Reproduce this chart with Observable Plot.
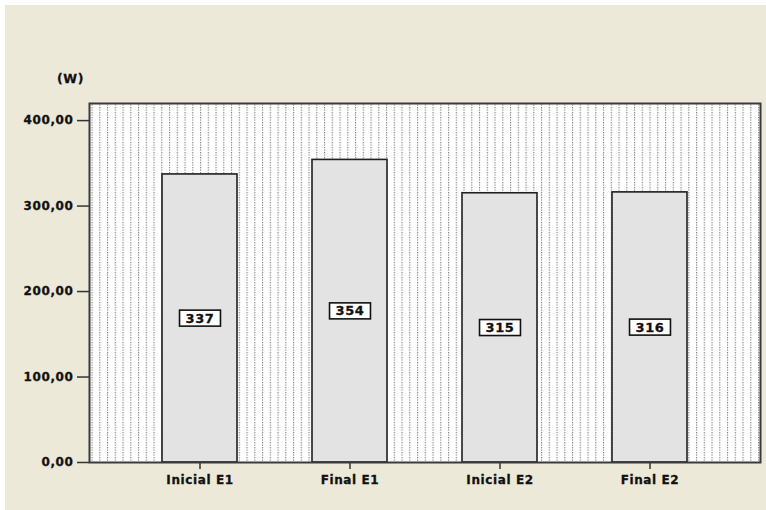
<!DOCTYPE html>
<html>
<head>
<meta charset="utf-8">
<script src="https://cdn.jsdelivr.net/npm/d3@7"></script>
<script src="https://cdn.jsdelivr.net/npm/@observablehq/plot@0.6"></script>
<style>
  html, body { margin: 0; padding: 0; background: #ffffff; }
  #chart { width: 766px; height: 510px; }
  svg { display: block; }
  svg text { stroke: #111; stroke-width: 0.3px; }
</style>
</head>
<body>
<div id="chart"></div>
<script>
const categories = ["Inicial E1", "Final E1", "Inicial E2", "Final E2"];
const values = [337, 354, 315, 316];
const yTicks = [0, 100, 200, 300, 400];
const unitLabel = "(W)";

const data = categories.map((c, i) => ({cat: c, value: values[i]}));
const fmt = d => d.toFixed(2).replace(".", ",");
const font = "DejaVu Sans";

const chart = Plot.plot({
  width: 766, height: 510,
  marginLeft: 89, marginRight: 6, marginTop: 103, marginBottom: 48,
  style: {background: "transparent", fontFamily: font, fontWeight: "bold", fontSize: "12px", color: "#111", letterSpacing: "0.6px"},
  x: {domain: categories, paddingInner: 0.497, paddingOuter: 0.472, label: null},
  y: {domain: [0, 420], label: null},
  marks: [
    Plot.frame({fill: "url(#dotpat)"}),
    Plot.barY(data, {x: "cat", y: "value", fill: "#e3e3e3", stroke: "#1e1e1e", strokeWidth: 1.6}),
    Plot.text(data, {x: "cat", y: d => d.value / 2, text: d => String(d.value), fill: "#111", fontSize: 13, fontWeight: "bold", className: "vlabel"}),
    Plot.axisY({ticks: yTicks, tickFormat: fmt, tickSize: 12, tickPadding: 4, label: null, stroke: "#333", strokeWidth: 1.5, fontSize: 12}),
    Plot.axisX({tickSize: 7, tickPadding: 6, label: null, stroke: "#333", strokeWidth: 1.5, fontSize: 12}),
    Plot.frame({stroke: "#3a3a3a", strokeWidth: 2}),
    Plot.text([unitLabel], {frameAnchor: "top-left", text: d => d, dx: -19, dy: -29, textAnchor: "middle", fontSize: 12.5, fontWeight: "bold", fill: "#111"})
  ]
});

document.getElementById("chart").appendChild(chart);

const svg = d3.select(chart);
// beige panel (white strip at top and left edges)
svg.insert("rect", ":first-child")
  .attr("x", 5).attr("y", 5).attr("width", 761).attr("height", 505).attr("fill", "#ECE9D8");

// dotted-line background pattern
const defs = svg.insert("defs", ":first-child");
const pat = defs.append("pattern")
  .attr("id", "dotpat").attr("patternUnits", "userSpaceOnUse")
  .attr("x", 91).attr("y", 104).attr("width", 7.75).attr("height", 2.5);
pat.append("rect").attr("width", 7.75).attr("height", 2.5).attr("fill", "#ffffff");
pat.append("rect").attr("x", 0).attr("y", 0).attr("width", 1.1).attr("height", 1.2).attr("fill", "#7a7a7a");

// boxes behind value labels
svg.selectAll("g.vlabel text").each(function() {
  const b = this.getBBox();
  const t = this.getAttribute("transform");
  const r = d3.select(this.parentNode).insert("rect", () => this)
    .attr("x", b.x - 6)
    .attr("y", b.y - 0.5)
    .attr("width", b.width + 12).attr("height", b.height + 1)
    .attr("fill", "#fff").attr("stroke", "#111").attr("stroke-width", 1.6)
    .style("stroke-width", "1.6px");
  if (t) r.attr("transform", t);
});
</script>
</body>
</html>
